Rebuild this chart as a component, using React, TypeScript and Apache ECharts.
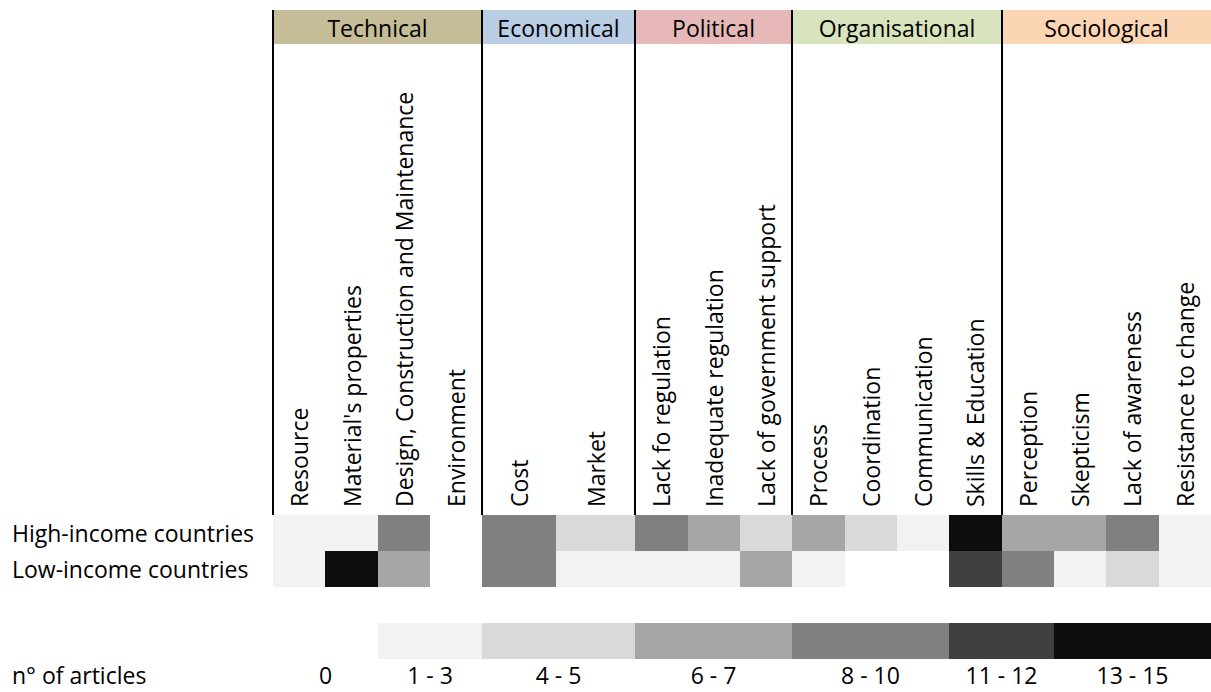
import React, { useEffect, useRef } from "react";
import * as echarts from "echarts";

// ---------- data ----------
const rowNames = ["High-income countries", "Low-income countries"];
const colNames = [
  "Resource",
  "Material's properties",
  "Design, Construction and Maintenance",
  "Environment",
  "Cost",
  "Market",
  "Lack fo regulation",
  "Inadequate regulation",
  "Lack of government support",
  "Process",
  "Coordination",
  "Communication",
  "Skills & Education",
  "Perception",
  "Skepticism",
  "Lack of awareness",
  "Resistance to change",
];
const groupNames = ["Technical", "Economical", "Political", "Organisational", "Sociological"];
const groupSizes = [4, 2, 3, 4, 4];
const groupColors = ["#C4BD97", "#B9CDE5", "#E6B9B8", "#D7E4BD", "#FCD5B5"];

const highIncome = [2, 1, 9, 0, 8, 4, 9, 6, 5, 7, 4, 2, 14, 6, 7, 8, 3];
const lowIncome = [1, 13, 6, 0, 9, 2, 1, 3, 7, 2, 0, 0, 11, 10, 1, 5, 2];

const legendLabels = ["0", "1 - 3", "4 - 5", "6 - 7", "8 - 10", "11 - 12", "13 - 15"];
const legendMin = [0, 1, 4, 6, 8, 11, 13];
const legendMax = [0, 3, 5, 7, 10, 12, 15];
const legendColors = ["#FFFFFF", "#F2F2F2", "#D9D9D9", "#A6A6A6", "#808080", "#404040", "#0D0D0D"];
const legendTitle = "n° of articles";

// ---------- layout ----------
const colUnits = [1, 1, 1, 1, 1.41, 1.51, 1, 1, 1, 1, 1, 1, 1, 1, 1, 1, 1];
const legendSpanCols = [2, 2, 2, 3, 3, 2, 3];
const GRID_LEFT = 273;
const GRID_W = 939;
const GRID_TOP = 515;
const ROW_H = 36;
const LEG_TOP = 623;
const LEG_H = 36;
const HEAD_TOP = 10;
const HEAD_H = 34;
const BOTTOM_TEXT_Y = 675;
const FONT_FAMILY = '"Open Sans", "Noto Sans", sans-serif';
const FONT_SIZE = 23;
const FONT = `${FONT_SIZE}px ${FONT_FAMILY}`;

const edges: number[] = [0];
colUnits.forEach((u, i) => edges.push(edges[i] + u));
const totalUnits = edges[edges.length - 1];

const groupStart: number[] = [];
groupSizes.reduce((acc, s, i) => {
  groupStart[i] = acc;
  return acc + s;
}, 0);
const legendStart: number[] = [];
legendSpanCols.reduce((acc, s, i) => {
  legendStart[i] = acc;
  return acc + s;
}, 0);

function colorFor(v: number): string | null {
  for (let i = 0; i < legendMin.length; i++) {
    if (v >= legendMin[i] && v <= legendMax[i]) return v === 0 ? null : legendColors[i];
  }
  return null;
}

export default function App() {
  const ref = useRef<HTMLDivElement>(null);

  useEffect(() => {
    if (!ref.current) return;
    const chart = echarts.init(ref.current, undefined, { renderer: "svg" });

    const cellData: number[][] = [];
    [highIncome, lowIncome].forEach((arr, r) => {
      arr.forEach((v, c) => cellData.push([c, r, v]));
    });

    const option: any = {
      animation: false,
      backgroundColor: "#FFFFFF",
      grid: [
        { left: GRID_LEFT, top: GRID_TOP, width: GRID_W, height: ROW_H * 2 },
        { left: GRID_LEFT, top: LEG_TOP, width: GRID_W, height: LEG_H },
      ],
      xAxis: [
        { type: "value", gridIndex: 0, min: 0, max: totalUnits, show: false },
        { type: "value", gridIndex: 1, min: 0, max: totalUnits, show: false },
      ],
      yAxis: [
        {
          type: "category",
          gridIndex: 0,
          data: rowNames,
          inverse: true,
          axisLine: { show: false },
          axisTick: { show: false },
          splitLine: { show: false },
          axisLabel: {
            align: "left",
            margin: GRID_LEFT - 12,
            color: "#000",
            fontSize: FONT_SIZE,
            fontFamily: FONT_FAMILY,
          },
        },
        { type: "category", gridIndex: 1, data: [""], show: false },
      ],
      graphic: [
        {
          type: "text",
          x: 12,
          y: BOTTOM_TEXT_Y,
          style: {
            text: legendTitle,
            font: FONT,
            fill: "#000",
            align: "left",
            verticalAlign: "middle",
          },
        },
      ],
      series: [
        {
          type: "custom",
          name: "cells",
          xAxisIndex: 0,
          yAxisIndex: 0,
          encode: { x: 0, y: 1 },
          data: cellData,
          renderItem: (params: any, api: any) => {
            const c = api.value(0);
            const r = api.value(1);
            const v = api.value(2);
            const fill = colorFor(v);
            if (!fill) return { type: "group", children: [] };
            const x0 = Math.round(api.coord([edges[c], r])[0]);
            const x1 = Math.round(api.coord([edges[c + 1], r])[0]);
            const yc = api.coord([0, r])[1];
            const h = api.size([0, 1])[1];
            return {
              type: "rect",
              shape: { x: x0, y: Math.round(yc - h / 2), width: x1 - x0, height: Math.round(h) },
              style: { fill },
            };
          },
        },
        {
          type: "custom",
          name: "columnLabels",
          xAxisIndex: 0,
          yAxisIndex: 0,
          data: colNames.map((_, i) => [i, 0]),
          encode: { x: 0, y: 1 },
          renderItem: (params: any, api: any) => {
            const c = api.value(0);
            const x0 = api.coord([edges[c], 0])[0];
            const x1 = api.coord([edges[c + 1], 0])[0];
            return {
              type: "text",
              x: (x0 + x1) / 2,
              y: params.coordSys.y - 8,
              rotation: Math.PI / 2,
              style: {
                text: colNames[c],
                font: FONT,
                fill: "#000",
                align: "left",
                verticalAlign: "middle",
              },
            };
          },
        },
        {
          type: "custom",
          name: "groups",
          xAxisIndex: 0,
          yAxisIndex: 0,
          data: groupNames.map((_, i) => [i, 0]),
          encode: { x: 0, y: 1 },
          z: 3,
          renderItem: (params: any, api: any) => {
            const g = api.value(0);
            const s = groupStart[g];
            const e = s + groupSizes[g];
            const x0 = Math.round(api.coord([edges[s], 0])[0]);
            const x1 = Math.round(api.coord([edges[e], 0])[0]);
            const top = params.coordSys.y;
            return {
              type: "group",
              children: [
                {
                  type: "rect",
                  shape: { x: x0, y: HEAD_TOP, width: x1 - x0, height: HEAD_H },
                  style: { fill: groupColors[g] },
                },
                {
                  type: "text",
                  x: (x0 + x1) / 2,
                  y: HEAD_TOP + HEAD_H / 2 + 1,
                  style: {
                    text: groupNames[g],
                    font: FONT,
                    fill: "#000",
                    align: "center",
                    verticalAlign: "middle",
                  },
                },
                {
                  type: "line",
                  shape: { x1: x0, y1: HEAD_TOP, x2: x0, y2: top },
                  style: { stroke: "#000", lineWidth: 2 },
                },
              ],
            };
          },
        },
        {
          type: "custom",
          name: "legend",
          xAxisIndex: 1,
          yAxisIndex: 1,
          data: legendLabels.map((_, i) => [i, 0]),
          encode: { x: 0, y: 1 },
          renderItem: (params: any, api: any) => {
            const i = api.value(0);
            const s = legendStart[i];
            const e = s + legendSpanCols[i];
            const x0 = Math.round(api.coord([edges[s], 0])[0]);
            const x1 = Math.round(api.coord([edges[e], 0])[0]);
            const top = params.coordSys.y;
            const h = params.coordSys.height;
            return {
              type: "group",
              children: [
                {
                  type: "rect",
                  shape: { x: x0, y: top, width: x1 - x0, height: h },
                  style: { fill: legendColors[i] },
                },
                {
                  type: "text",
                  x: (x0 + x1) / 2,
                  y: BOTTOM_TEXT_Y,
                  style: {
                    text: legendLabels[i],
                    font: FONT,
                    fill: "#000",
                    align: "center",
                    verticalAlign: "middle",
                  },
                },
              ],
            };
          },
        },
      ],
    };

    chart.setOption(option);
    return () => chart.dispose();
  }, []);

  return (
    <div
      ref={ref}
      style={{ position: "absolute", left: 0, top: 0, width: 1211, height: 692, background: "#fff" }}
    />
  );
}
